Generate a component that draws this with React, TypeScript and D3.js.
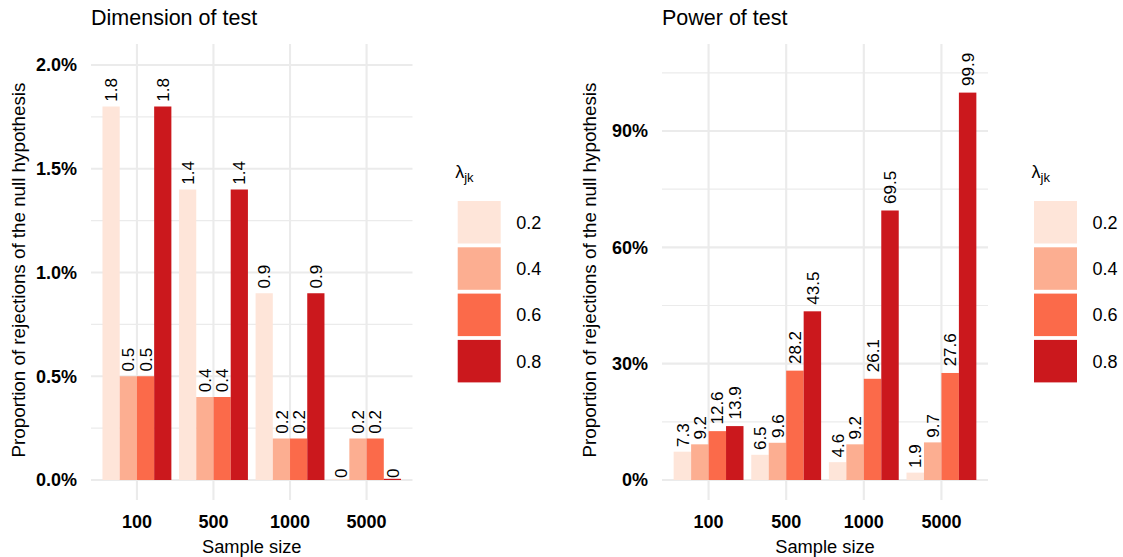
import React from "react";
import * as d3 from "d3";

const sampleSizes = ["100", "500", "1000", "5000"];
const lambdas = ["0.2", "0.4", "0.6", "0.8"];
const colors = ["#FEE5D9", "#FCAE91", "#FB6A4A", "#CB181D"];

// Dimension of test (% rejections), rows = sample size, cols = lambda
const dimensionValues = [
  [1.8, 0.5, 0.5, 1.8],
  [1.4, 0.4, 0.4, 1.4],
  [0.9, 0.2, 0.2, 0.9],
  [0, 0.2, 0.2, 0],
];
// Power of test (%)
const powerValues = [
  [7.3, 9.2, 12.6, 13.9],
  [6.5, 9.6, 28.2, 43.5],
  [4.6, 9.2, 26.1, 69.5],
  [1.9, 9.7, 27.6, 99.9],
];

const dimMajor = [0, 0.5, 1, 1.5, 2];
const dimMinor = [0.25, 0.75, 1.25, 1.75];
const powMajor = [0, 30, 60, 90];
const powMinor = [15, 45, 75, 105];

const FONT = "'Liberation Sans', Arial, Helvetica, sans-serif";
const GRID = "#EBEBEB";

type PanelProps = {
  title: string;
  values: number[][];
  major: number[];
  minor: number[];
  yDomainTop: number;
  yTopPx: number;
  fmt: (v: number) => string;
  left: number;
  right: number;
  legendX: number;
};

function textWidth(s: string, size: number) {
  let w = 0;
  for (const c of s) w += c === "." ? 0.278 : 0.556;
  return w * size;
}

function Panel(p: PanelProps) {
  const top = 44;
  const bottom = 500;
  const zeroY = 480;
  const x = d3.scalePoint<string>().domain(sampleSizes).range([p.left, p.right]).padding(0.6);
  const step = x.step();
  const inner = d3
    .scaleBand<string>()
    .domain(lambdas)
    .range([-0.45 * step, 0.45 * step])
    .padding(0);
  const y = d3.scaleLinear().domain([0, p.yDomainTop]).range([zeroY, p.yTopPx]);
  const lblSize = 17;
  const keyH = 42.5;
  const keyPitch = 46.3;
  const keyTop = 201;
  const keyW = 43;
  return (
    <g>
      <text x={p.left} y={25} fontSize={21.5} fontFamily={FONT} fill="#000">
        {p.title}
      </text>
      {p.minor.map((v) => (
        <line key={"mn" + v} x1={p.left} x2={p.right} y1={y(v)} y2={y(v)} stroke={GRID} strokeWidth={1.1} />
      ))}
      {p.major.map((v) => (
        <line key={"mj" + v} x1={p.left} x2={p.right} y1={y(v)} y2={y(v)} stroke={GRID} strokeWidth={2.1} />
      ))}
      {sampleSizes.map((s) => (
        <line key={"v" + s} x1={x(s)} x2={x(s)} y1={top} y2={bottom} stroke={GRID} strokeWidth={2.1} />
      ))}
      {sampleSizes.map((s, i) =>
        lambdas.map((l, j) => {
          const v = p.values[i][j];
          const bx = (x(s) as number) + (inner(l) as number);
          const bw = inner.bandwidth();
          const h = Math.max(zeroY - y(v), 1.2);
          return (
            <rect key={s + l} x={bx} y={zeroY - h} width={bw} height={h} fill={colors[j]} />
          );
        })
      )}
      {sampleSizes.map((s, i) =>
        lambdas.map((l, j) => {
          const v = p.values[i][j];
          const label = String(v);
          const cx = (x(s) as number) + (inner(l) as number) + inner.bandwidth() / 2;
          const ty = y(v) - 0.2 * textWidth(label, lblSize);
          return (
            <text
              key={"t" + s + l}
              transform={`translate(${cx},${ty}) rotate(-90)`}
              dy="0.36em"
              fontSize={lblSize}
              fontFamily={FONT}
              fill="#000"
            >
              {label}
            </text>
          );
        })
      )}
      {p.major.map((v) => (
        <text
          key={"yl" + v}
          x={p.left - 14}
          y={y(v)}
          dy="0.36em"
          textAnchor="end"
          fontSize={18}
          fontWeight="bold"
          fontFamily={FONT}
          fill="#000"
        >
          {p.fmt(v)}
        </text>
      ))}
      {sampleSizes.map((s) => (
        <text
          key={"xl" + s}
          x={x(s)}
          y={528}
          textAnchor="middle"
          fontSize={18}
          fontWeight="bold"
          fontFamily={FONT}
          fill="#000"
        >
          {s}
        </text>
      ))}
      <text
        x={(p.left + p.right) / 2}
        y={552.5}
        textAnchor="middle"
        fontSize={18.3}
        fontFamily={FONT}
        fill="#000"
      >
        Sample size
      </text>
      <text
        transform={`translate(${p.left - 73},${(top + bottom) / 2 - 2}) rotate(-90)`}
        dy="0.36em"
        textAnchor="middle"
        fontSize={18.8}
        fontFamily={FONT}
        fill="#000"
      >
        Proportion of rejections of the null hypothesis
      </text>
      <text x={p.legendX - 2.5} y={178} fontSize={18} fontFamily={FONT} fill="#000">
        λ<tspan fontSize={13} dy={4}>jk</tspan>
      </text>
      {lambdas.map((l, j) => (
        <g key={"lg" + l}>
          <rect x={p.legendX} y={keyTop + j * keyPitch} width={keyW} height={keyH} fill={colors[j]} />
          <text
            x={p.legendX + keyW + 15.5}
            y={keyTop + j * keyPitch + keyH / 2}
            dy="0.36em"
            fontSize={18}
            fontFamily={FONT}
            fill="#000"
          >
            {l}
          </text>
        </g>
      ))}
    </g>
  );
}

export default function App() {
  return (
    <svg width={1123} height={557} style={{ display: "block", position: "absolute", left: 0, top: 0, background: "#fff" }}>
      <rect width={1123} height={557} fill="#fff" />
      <Panel
        title="Dimension of test"
        values={dimensionValues}
        major={dimMajor}
        minor={dimMinor}
        yDomainTop={2}
        yTopPx={65}
        fmt={(v) => d3.format(".1%")(v / 100)}
        left={91}
        right={412.5}
        legendX={457.7}
      />
      <Panel
        title="Power of test"
        values={powerValues}
        major={powMajor}
        minor={powMinor}
        yDomainTop={90}
        yTopPx={131}
        fmt={(v) => d3.format(".0%")(v / 100)}
        left={662}
        right={988}
        legendX={1034}
      />
    </svg>
  );
}
